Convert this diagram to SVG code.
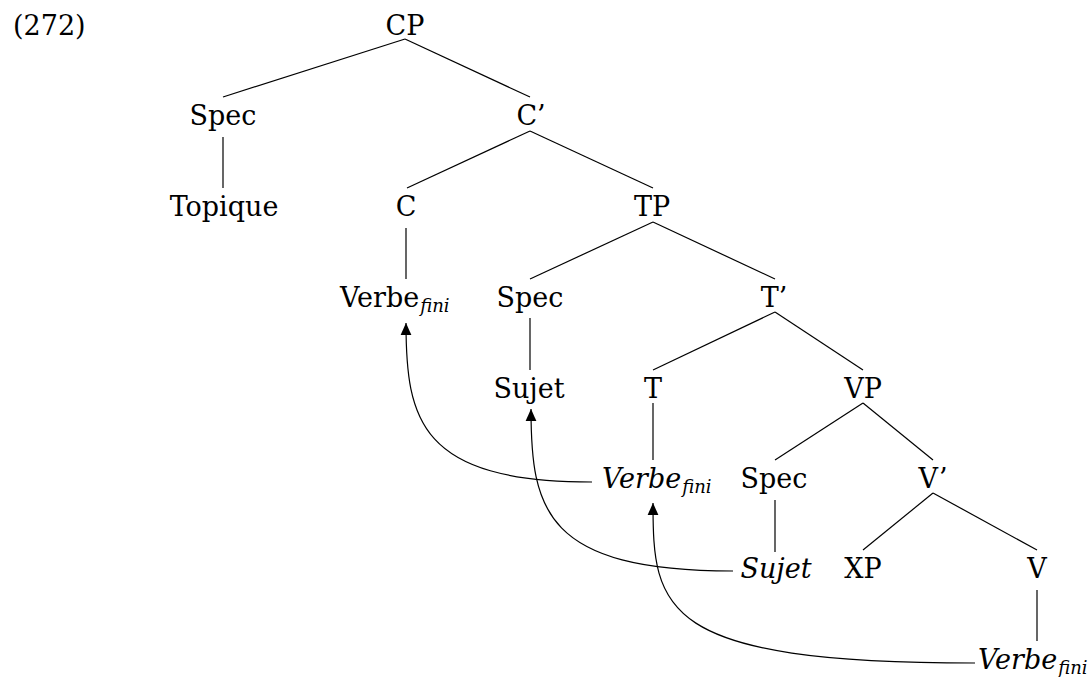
<svg xmlns="http://www.w3.org/2000/svg" width="1092" height="677" viewBox="0 0 1092 677">
<defs>
<style>
text{font-family:"DejaVu Serif","Liberation Serif",serif;font-size:27px;fill:#000}
.n{text-anchor:middle}
.it{font-style:italic}
.sub{font-size:18px;font-style:italic}
.e{stroke:#000;stroke-width:1.2;fill:none}
.a{stroke:#000;stroke-width:1.2;fill:none;marker-end:url(#ah)}
</style>
<marker id="ah" markerUnits="userSpaceOnUse" markerWidth="12" markerHeight="12" viewBox="0 0 10 9" refX="10" refY="4.5" orient="auto">
<path d="M0,0 L10,4.5 L0,9 z" fill="#000"/>
</marker>
</defs>
<text x="13" y="35">(272)</text>
<g id="CP"><text class="n" x="405" y="35">CP</text></g>
<g id="Spec1"><text class="n" x="223" y="125">Spec</text></g>
<g id="Cbar"><text class="n" x="531" y="125">C’</text></g>
<g id="Topique"><text class="n" x="224" y="216">Topique</text></g>
<g id="C"><text class="n" x="406" y="216">C</text></g>
<g id="TP"><text class="n" x="652" y="216">TP</text></g>
<g id="Verbe1"><text x="340" y="307">Verbe<tspan class="sub" dx="1" dy="5">fini</tspan></text></g>
<g id="Spec2"><text class="n" x="530" y="307">Spec</text></g>
<g id="Tbar"><text class="n" x="774" y="307">T’</text></g>
<g id="Sujet1"><text class="n" x="529" y="398">Sujet</text></g>
<g id="T"><text class="n" x="653" y="398">T</text></g>
<g id="VP"><text class="n" x="863" y="398">VP</text></g>
<g id="Verbe2"><text class="it" x="602" y="488">Verbe<tspan class="sub" dx="1" dy="5">fini</tspan></text></g>
<g id="Spec3"><text class="n" x="774" y="488">Spec</text></g>
<g id="Vbar"><text class="n" x="933" y="488">V’</text></g>
<g id="Sujet2"><text class="n it" x="776" y="578">Sujet</text></g>
<g id="XP"><text class="n" x="863" y="578">XP</text></g>
<g id="V"><text class="n" x="1037" y="578">V</text></g>
<g id="Verbe3"><text class="it" x="978" y="669">Verbe<tspan class="sub" dx="1" dy="5">fini</tspan></text></g>
<g id="connectors">
<line class="e" x1="405" y1="39" x2="223" y2="97"/>
<line class="e" x1="405" y1="39" x2="530" y2="97"/>
<line class="e" x1="223" y1="137" x2="223" y2="188"/>
<line class="e" x1="530" y1="131" x2="407" y2="188"/>
<line class="e" x1="530" y1="131" x2="653" y2="188"/>
<line class="e" x1="406" y1="228" x2="406" y2="279"/>
<line class="e" x1="653" y1="222" x2="530" y2="279"/>
<line class="e" x1="653" y1="222" x2="775" y2="279"/>
<line class="e" x1="530" y1="318" x2="530" y2="370"/>
<line class="e" x1="775" y1="312" x2="653" y2="370"/>
<line class="e" x1="775" y1="312" x2="863" y2="370"/>
<line class="e" x1="653" y1="403" x2="653" y2="460"/>
<line class="e" x1="863" y1="403" x2="775" y2="460"/>
<line class="e" x1="863" y1="403" x2="933" y2="460"/>
<line class="e" x1="775" y1="500" x2="775" y2="552"/>
<line class="e" x1="933" y1="493" x2="863" y2="550"/>
<line class="e" x1="933" y1="493" x2="1037" y2="550"/>
<line class="e" x1="1037" y1="590" x2="1037" y2="641"/>
<path class="a" d="M592,482 C420,482 406,420 406,323"/>
<path class="a" d="M733,571 C545,571 531,510 531,409"/>
<path class="a" d="M975,663 C660,663 653,610 653,503"/>
</g>
</svg>
